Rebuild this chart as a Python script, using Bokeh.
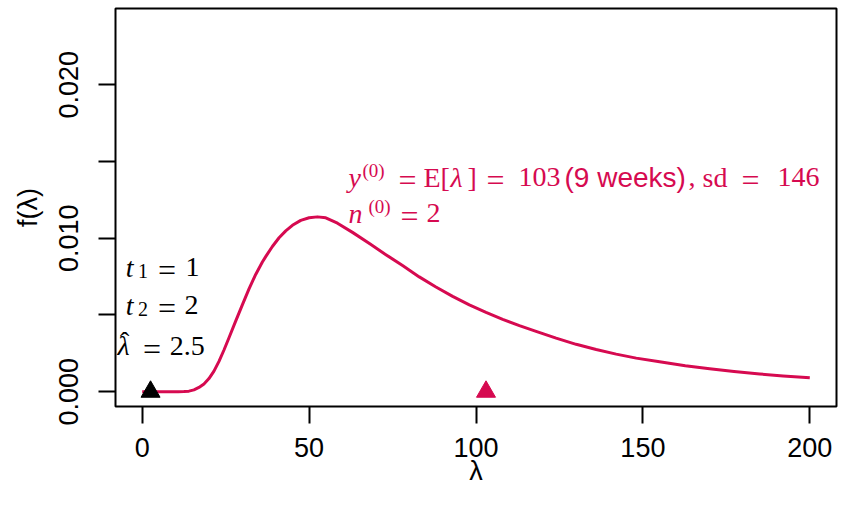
from bokeh.plotting import figure
from bokeh.models import FixedTicker, PrintfTickFormatter
from bokeh.core.properties import value
from bokeh.embed import file_html
from bokeh.resources import INLINE

# ---- data ----
lam = [0, 5, 10.8, 12.5, 14, 15.5, 17, 18.5, 20, 21.5, 23, 24.5, 26, 28, 30, 32, 34, 36,
       37, 39, 41, 43, 45, 47.5, 50, 52.5, 55, 58.5, 63, 68.3, 73, 78, 83, 88, 93, 98,
       103, 108, 113, 118, 124, 130, 136, 142, 148, 155, 162.7, 170, 177.3, 185, 192, 200]
dens = [0, 0, 0, 0.00001, 0.00004, 0.00012, 0.00028, 0.00051, 0.00086, 0.00134, 0.00198,
        0.00272, 0.00352, 0.0046, 0.00566, 0.0067, 0.00764, 0.00845, 0.0088, 0.00946,
        0.01003, 0.01048, 0.01084, 0.01116, 0.01133, 0.01139, 0.01133, 0.01098, 0.01038,
        0.00962, 0.00893, 0.00822, 0.00748, 0.00682, 0.00621, 0.00566, 0.00517, 0.00472,
        0.00431, 0.00393, 0.00349, 0.00309, 0.00275, 0.00245, 0.00219, 0.00195, 0.0017,
        0.0015, 0.00132, 0.00116, 0.00103, 0.00091]
lam_hat = [2.5]
prior_mean = [103]
x_ticks = [0, 50, 100, 150, 200]
y_ticks = [0, 0.01, 0.02]
y_minor = [0.005, 0.015]

RED = "#D60A50"
SERIF = "Liberation Serif"
SANS = "Liberation Sans"

p = figure(width=838, height=489, x_range=(-8, 208), y_range=(-0.00096, 0.02496),
           output_backend="svg", toolbar_location=None,
           min_border_left=115, min_border_right=2, min_border_top=8, min_border_bottom=83)
p.grid.visible = False
p.outline_line_color = "black"
p.outline_line_width = 2
p.outline_line_alpha = 1

for ax in (p.xaxis[0], p.yaxis[0]):
    ax.axis_line_color = None
    ax.major_tick_in = 0
    ax.major_tick_out = 17
    ax.major_tick_line_width = 2
    ax.major_label_text_font = SANS
    ax.major_label_text_font_size = "27px"
    ax.major_label_text_color = "black"
    ax.axis_label_text_font = SANS
    ax.axis_label_text_font_size = "27px"
    ax.axis_label_text_font_style = "normal"
    ax.axis_label_text_color = "black"

p.xaxis.ticker = FixedTicker(ticks=x_ticks, minor_ticks=[])
p.xaxis.minor_tick_out = 0
p.xaxis.major_label_standoff = 14
p.xaxis.axis_label = "λ"
p.xaxis.axis_label_standoff = -4

p.yaxis.ticker = FixedTicker(ticks=y_ticks, minor_ticks=y_minor)
p.yaxis.formatter = PrintfTickFormatter(format="%.3f")
p.yaxis.minor_tick_in = 0
p.yaxis.minor_tick_out = 17
p.yaxis.minor_tick_line_width = 2
p.yaxis.major_label_orientation = "vertical"
p.yaxis.major_label_standoff = 20
p.yaxis.axis_label = "f(λ)"
p.yaxis.axis_label_standoff = 14

p.line(lam, dens, line_color=RED, line_width=3, line_join="round")
p.scatter(lam_hat, [0], marker="triangle", size=19, color="black")
p.scatter(prior_mean, [0], marker="triangle", size=19, color=RED)

EQ_DROP = 0.00018  # lower the wider "=" glyphs onto the text's math axis


def txt(x, dx, y, s, color="black", font=SERIF, size="28px", style="normal"):
    if s == "=":
        size, y = "32px", y - EQ_DROP
    p.text(x=[x], y=[y], x_offset=dx, text=[s], text_color=color, text_font=value(font),
           text_font_size=value(size), text_font_style=value(style),
           text_align="left", text_baseline="alphabetic")


# black annotation block (anchored at lambda = 5.5, offsets in pixels)
BX, B0 = 5.5, 2
for yb, k in ((0.00812, "1"), (0.00565, "2")):
    txt(BX, B0 - 36.8, yb, "t", style="italic")
    txt(BX, B0 - 24.5, yb - 0.00026, k, size="20px")
    txt(BX, B0 - 4.5, yb, "=")
    txt(BX, B0 + 23.0 - (1 if k == "2" else 0), yb, k)
txt(BX, B0 - 45.1, 0.00299, "λ", style="italic")
txt(BX, B0 - 42.5, 0.00327, "ˆ")
txt(BX, B0 - 19.5, 0.00299, "=")
txt(BX, B0 + 7.2, 0.00299, "2.5")

# red annotation block (anchored at lambda = 60)
RX, R0 = 60, 6
y1, y2 = 0.01396, 0.01162
txt(RX, R0 + 0, y1, "y", RED, style="italic")
txt(RX, R0 + 14, y1 + 0.00045, "(0)", RED, size="19px")
txt(RX, R0 + 50, y1, "=", RED)
txt(RX, R0 + 75, y1, "E[", RED)
txt(RX, R0 + 102, y1, "λ", RED, style="italic")
txt(RX, R0 + 119, y1, "]", RED)
txt(RX, R0 + 138, y1, "=", RED)
txt(RX, R0 + 170, y1, "103", RED)
txt(RX, R0 + 216, y1, "(9 weeks)", RED, font=SANS, size="28px")
txt(RX, R0 + 340, y1, ",", RED)
txt(RX, R0 + 354, y1, "sd", RED)
txt(RX, R0 + 393, y1, "=", RED)
txt(RX, R0 + 429, y1, "146", RED)
txt(RX, R0 + 0, y2, "n", RED, style="italic")
txt(RX, R0 + 20, y2 + 0.00045, "(0)", RED, size="19px")
txt(RX, R0 + 52, y2, "=", RED)
txt(RX, R0 + 78, y2, "2", RED)

open("out.html", "w").write(file_html(p, INLINE))
